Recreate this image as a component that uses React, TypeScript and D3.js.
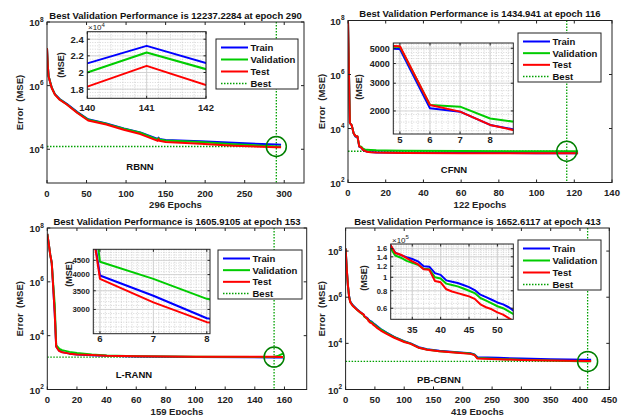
import React from 'react';
import * as d3 from 'd3';

const FONT = '"Liberation Sans", Arial, Helvetica, sans-serif';
const C_TRAIN = '#0000ff';
const C_VAL = '#00cc00';
const C_TEST = '#ff0000';
const C_BEST = '#00a000';
const C_CIRCLE = '#008000';

// ---------- Panel 1 (RBNN) ----------
const p1Epochs = [0, 1, 2, 4, 6, 10, 16, 25, 38, 52, 75, 97, 118, 140, 141, 142, 150, 194, 236, 290, 296];
const p1Train = [1.5e7, 4.3e6, 2.0e6, 1.3e6, 8.7e5, 5.4e5, 3.8e5, 2.7e5, 1.5e5, 8.8e4, 6.5e4, 4.5e4, 3.4e4, 2.11e4, 2.32e4, 2.115e4, 1.95e4, 1.8e4, 1.6e4, 1.4e4, 1.38e4];
const p1Val = [1.5e7, 4.3e6, 2.0e6, 1.3e6, 8.6e5, 5.3e5, 3.7e5, 2.6e5, 1.45e5, 8.5e4, 6.3e4, 4.4e4, 3.3e4, 2.0e4, 2.24e4, 2.04e4, 1.9e4, 1.7e4, 1.45e4, 1.2237e4, 1.225e4];
const p1Test = [1.5e7, 4.2e6, 1.95e6, 1.25e6, 8.4e5, 5.2e5, 3.6e5, 2.55e5, 1.4e5, 8.0e4, 6.0e4, 4.1e4, 3.0e4, 1.83e4, 2.08e4, 1.85e4, 1.7e4, 1.5e4, 1.3e4, 1.15e4, 1.15e4];
const p1Best = { epoch: 290, value: 12237.2284 };

// ---------- Panel 2 (CFNN) ----------
const p2Epochs = [0, 1, 2, 3, 4, 5, 6, 7, 8, 9, 10, 12, 15, 20, 30, 60, 100, 116, 122];
const p2Train = [1e8, 1.6e4, 1.3e4, 6.5e3, 5.0e3, 4.95e3, 2.08e3, 1.98e3, 1.63e3, 1.5e3, 1.4e3, 1.35e3, 1.3e3, 1.28e3, 1.26e3, 1.24e3, 1.22e3, 1.215e3, 1.21e3];
const p2Val = [1e8, 1.6e4, 1.3e4, 6.6e3, 5.2e3, 5.1e3, 2.18e3, 2.13e3, 1.79e3, 1.69e3, 1.62e3, 1.6e3, 1.56e3, 1.53e3, 1.5e3, 1.47e3, 1.44e3, 1.435e3, 1.435e3];
const p2Test = [1e8, 1.6e4, 1.3e4, 6.6e3, 5.2e3, 5.15e3, 2.18e3, 1.98e3, 1.63e3, 1.48e3, 1.38e3, 1.32e3, 1.28e3, 1.26e3, 1.24e3, 1.22e3, 1.2e3, 1.2e3, 1.2e3];
const p2Best = { epoch: 116, value: 1434.941 };

// ---------- Panel 3 (L-RANN) ----------
const p3Epochs = [0, 1, 2, 3, 4, 5, 6, 7, 8, 9, 10, 15, 20, 30, 40, 60, 100, 153, 156, 159];
const p3Train = [6e7, 2.5e7, 1e7, 5e6, 6e5, 7e4, 3970, 3360, 2790, 2600, 2450, 2150, 2000, 1880, 1780, 1700, 1620, 1560, 1555, 1550];
const p3Val = [6e7, 2.5e7, 1e7, 5e6, 8e5, 1.5e5, 4450, 3860, 3274, 3050, 2900, 2500, 2250, 2000, 1850, 1720, 1650, 1606, 1800, 2150];
const p3Test = [6e7, 2.5e7, 1e7, 5e6, 6e5, 7e4, 3860, 3180, 2700, 2550, 2400, 2150, 2000, 1900, 1800, 1720, 1660, 1630, 1628, 1625];
const p3Best = { epoch: 153, value: 1605.9105 };

// ---------- Panel 4 (PB-CBNN) ----------
const p4Epochs = [0, 2, 4, 6, 8, 12, 20, 25,
  31, 32, 33, 34, 35, 36, 37, 38, 39, 40, 41, 42, 43, 44, 45, 46, 47, 48, 49, 50, 51, 52, 53,
  60, 70, 83, 100, 111, 125, 139, 160, 190, 213, 220, 225, 260, 300, 350, 413, 419];
const p4Train = [1.3e8, 1.6e7, 3.2e6, 1.1e6, 6.5e5, 4.6e5, 2.9e5, 2.3e5,
  1.72e5, 1.50e5, 1.44e5, 1.39e5, 1.35e5, 1.30e5, 1.20e5, 1.19e5, 1.07e5, 1.04e5, 0.95e5, 0.93e5, 0.91e5, 0.88e5, 0.85e5, 0.81e5, 0.75e5, 0.72e5, 0.69e5, 0.66e5, 0.64e5, 0.61e5, 0.57e5,
  4.2e4, 2.9e4, 1.9e4, 1.25e4, 1.0e4, 6.8e3, 5.6e3, 4.8e3, 4.1e3, 3.7e3, 3.3e3, 2.5e3, 2.35e3, 2.2e3, 2.05e3, 1.95e3, 1.93e3];
const p4Val = [1.3e8, 1.6e7, 3.2e6, 1.05e6, 6.2e5, 4.4e5, 2.8e5, 2.2e5,
  1.65e5, 1.43e5, 1.38e5, 1.31e5, 1.27e5, 1.23e5, 1.15e5, 1.14e5, 1.00e5, 0.98e5, 0.90e5, 0.88e5, 0.86e5, 0.83e5, 0.80e5, 0.77e5, 0.71e5, 0.68e5, 0.65e5, 0.62e5, 0.60e5, 0.57e5, 0.54e5,
  4.0e4, 2.8e4, 1.85e4, 1.2e4, 9.7e3, 6.5e3, 5.4e3, 4.6e3, 4.0e3, 3.6e3, 3.2e3, 2.3e3, 2.1e3, 1.95e3, 1.8e3, 1.6526e3, 1.66e3];
const p4Test = [1.3e8, 1.6e7, 3.1e6, 1.0e6, 6.0e5, 4.3e5, 2.8e5, 2.2e5,
  1.75e5, 1.49e5, 1.45e5, 1.37e5, 1.30e5, 1.24e5, 1.14e5, 1.13e5, 0.94e5, 0.92e5, 0.82e5, 0.79e5, 0.77e5, 0.75e5, 0.73e5, 0.70e5, 0.64e5, 0.61e5, 0.59e5, 0.56e5, 0.54e5, 0.51e5, 0.48e5,
  3.6e4, 2.6e4, 1.75e4, 1.15e4, 9.5e3, 6.4e3, 5.3e3, 4.5e3, 3.9e3, 3.5e3, 3.1e3, 2.2e3, 2.05e3, 1.9e3, 1.8e3, 1.7e3, 1.7e3];
const p4Best = { epoch: 413, value: 1652.6117 };

const legendNames = ['Train', 'Validation', 'Test', 'Best'];

type InsetCfg = {
  box: [number, number, number, number];
  xDomain: [number, number];
  yDomain: [number, number];
  log: boolean;
  factor: number;
  xTicks: number[];
  yTicks: number[];
  yTickLabels: string[];
  xMinor: number[];
  yMinor: number[];
  exp?: string;
  expPos?: [number, number];
  msePos: [number, number];
  xLabelDy: number;
  yFont: number;
  xFont: number;
};

type PanelCfg = {
  id: string;
  box: [number, number, number, number];
  xDomain: [number, number];
  xTicks: number[];
  yDomain: [number, number];
  yExps: number[];
  epochs: number[];
  train: number[];
  val: number[];
  test: number[];
  best: { epoch: number; value: number };
  title: string;
  xLabel: string;
  name: string;
  namePos: [number, number];
  yLabelX: number;
  legend: [number, number, number, number];
  inset: InsetCfg;
};

const panels: PanelCfg[] = [
  {
    id: 'p1', box: [47, 22, 304, 183], xDomain: [0, 325], xTicks: d3.range(0, 301, 50),
    yDomain: [Math.pow(10, 2.94), 1e8], yExps: [4, 6, 8],
    epochs: p1Epochs, train: p1Train, val: p1Val, test: p1Test, best: p1Best,
    title: 'Best Validation Performance is 12237.2284 at epoch 290', xLabel: '296 Epochs',
    name: 'RBNN', namePos: [140, 166], yLabelX: 19.5, legend: [216, 39, 82, 50],
    inset: {
      box: [87.3, 31.7, 206, 98.3], xDomain: [140, 142], yDomain: [1.69, 2.49], log: false, factor: 1e4,
      xTicks: [140, 141, 142], yTicks: [1.8, 2, 2.2, 2.4], yTickLabels: ['1.8', '2', '2.2', '2.4'],
      xMinor: d3.range(140, 142.01, 0.2), yMinor: d3.range(1.72, 2.49, 0.04),
      exp: '4', expPos: [88, 27], msePos: [61, 65], xLabelDy: 9, yFont: 9.5, xFont: 9.5,
    },
  },
  {
    id: 'p2', box: [348, 20.5, 612, 182.5], xDomain: [0, 140], xTicks: d3.range(0, 141, 20),
    yDomain: [1e2, 1e8], yExps: [2, 4, 6, 8],
    epochs: p2Epochs, train: p2Train, val: p2Val, test: p2Test, best: p2Best,
    title: 'Best Validation Performance is 1434.941 at epoch 116', xLabel: '122 Epochs',
    name: 'CFNN', namePos: [454, 169], yLabelX: 321, legend: [518, 33, 83, 49],
    inset: {
      box: [393.3, 43, 513.3, 134], xDomain: [4.78, 8.77], yDomain: [1428, 5400], log: true, factor: 1,
      xTicks: [5, 6, 7, 8], yTicks: [2000, 3000, 4000, 5000], yTickLabels: ['2000', '3000', '4000', '5000'],
      xMinor: d3.range(4.8, 8.77, 0.2), yMinor: d3.range(1500, 5400, 200),
      msePos: [359, 87], xLabelDy: 5, yFont: 9, xFont: 9.5,
    },
  },
  {
    id: 'p3', box: [47.3, 228, 306.7, 389.5], xDomain: [0, 175], xTicks: d3.range(0, 161, 20),
    yDomain: [1e2, 1e8], yExps: [2, 4, 6, 8],
    epochs: p3Epochs, train: p3Train, val: p3Val, test: p3Test, best: p3Best,
    title: 'Best Validation Performance is 1605.9105 at epoch 153', xLabel: '159 Epochs',
    name: 'L-RANN', namePos: [134, 374], yLabelX: 19.5, legend: [218, 250, 84, 49],
    inset: {
      box: [93.3, 249.3, 210, 333.7], xDomain: [5.875, 8.06], yDomain: [2455, 4930], log: true, factor: 1,
      xTicks: [6, 7, 8], yTicks: [3000, 3500, 4000, 4500], yTickLabels: ['3000', '3500', '4000', '4500'],
      xMinor: d3.range(5.9, 8.06, 0.1), yMinor: d3.range(2500, 4930, 100),
      msePos: [68.5, 274], xLabelDy: 5, yFont: 7.8, xFont: 9.5,
    },
  },
  {
    id: 'p4', box: [345.6, 228, 609.3, 389.5], xDomain: [0, 450], xTicks: d3.range(0, 451, 50),
    yDomain: [1e2, 1e9], yExps: [2, 4, 6, 8],
    epochs: p4Epochs, train: p4Train, val: p4Val, test: p4Test, best: p4Best,
    title: 'Best Validation Performance is 1652.6117 at epoch 413', xLabel: '419 Epochs',
    name: 'PB-CBNN', namePos: [439, 379], yLabelX: 321.5, legend: [518, 240, 83, 50],
    inset: {
      box: [390.7, 244, 513.3, 319.3], xDomain: [31.2, 52.8], yDomain: [0.5, 1.73], log: true, factor: 1e5,
      xTicks: [35, 40, 45, 50], yTicks: [0.6, 0.8, 1, 1.2, 1.4, 1.6], yTickLabels: ['0.6', '0.8', '1', '1.2', '1.4', '1.6'],
      xMinor: d3.range(32, 53, 1), yMinor: d3.range(0.5, 1.73, 0.05),
      exp: '5', expPos: [392, 239.5], msePos: [364, 278], xLabelDy: 9.7, yFont: 7.6, xFont: 9.5,
    },
  },
];

function Panel({ cfg }: { cfg: PanelCfg }) {
  const [l, t, r, b] = cfg.box;
  const x = d3.scaleLinear().domain(cfg.xDomain).range([l, r]);
  const y = d3.scaleLog().domain(cfg.yDomain).range([b, t]);
  const mk = (vals: number[]) =>
    d3.line<number>().x((_, i) => x(cfg.epochs[i])).y((d) => y(d))(vals) || '';
  const series = [
    { vals: cfg.train, color: C_TRAIN },
    { vals: cfg.val, color: C_VAL },
    { vals: cfg.test, color: C_TEST },
  ];
  const bx = x(cfg.best.epoch);
  const by = y(cfg.best.value);
  const cx = (l + r) / 2;
  const cy = (t + b) / 2;

  const ins = cfg.inset;
  const [il, it, ir, ib] = ins.box;
  const ix = d3.scaleLinear().domain(ins.xDomain).range([il, ir]);
  const iy = ins.log
    ? d3.scaleLog().domain(ins.yDomain).range([ib, it])
    : d3.scaleLinear().domain(ins.yDomain).range([ib, it]);
  const imk = (vals: number[]) =>
    d3.line<number>().x((_, i) => ix(cfg.epochs[i])).y((d) => iy(d / ins.factor))(vals) || '';

  const [lx, ly, lw, lh] = cfg.legend;
  const rowGap = (lh - 14) / 3;

  return (
    <g>
      <defs>
        <clipPath id={cfg.id + '-clip'}>
          <rect x={l} y={t} width={r - l} height={b - t} />
        </clipPath>
        <clipPath id={cfg.id + '-iclip'}>
          <rect x={il} y={it} width={ir - il} height={ib - it} />
        </clipPath>
      </defs>
      <rect x={l} y={t} width={r - l} height={b - t} fill="#fff" />
      <g clipPath={`url(#${cfg.id}-clip)`}>
        <line x1={bx} x2={bx} y1={t} y2={b} stroke={C_BEST} strokeWidth={1.3} strokeDasharray="1.5,1.5" />
        <line x1={l} x2={bx} y1={by} y2={by} stroke={C_BEST} strokeWidth={1.3} strokeDasharray="1.5,1.5" />
        {series.map((s, i) => (
          <path key={i} d={mk(s.vals)} fill="none" stroke={s.color} strokeWidth={2} strokeLinejoin="round" />
        ))}
        <circle cx={bx} cy={by} r={10} fill="none" stroke={C_CIRCLE} strokeWidth={1.5} />
      </g>
      <rect x={l} y={t} width={r - l} height={b - t} fill="none" stroke="#222" strokeWidth={1} />
      {cfg.xTicks.map((v) => (
        <g key={'xt' + v}>
          <line x1={x(v)} x2={x(v)} y1={b} y2={b - 3} stroke="#222" />
          <line x1={x(v)} x2={x(v)} y1={t} y2={t + 3} stroke="#222" />
          <text x={x(v)} y={b + 13.5} textAnchor="middle" fontSize={9.5} fontWeight="bold" fill="#222">{v}</text>
        </g>
      ))}
      {cfg.yExps.map((e) => {
        const yy = y(Math.pow(10, e));
        return (
          <g key={'yt' + e}>
            <line x1={l} x2={l + 3} y1={yy} y2={yy} stroke="#222" />
            <line x1={r} x2={r - 3} y1={yy} y2={yy} stroke="#222" />
            <text x={l - 3.5} y={yy + 4} textAnchor="end" fontSize={9.5} fontWeight="bold" fill="#222">
              10<tspan dy={-4.5} fontSize={6.5}>{e}</tspan>
            </text>
          </g>
        );
      })}
      <text x={cx} y={t - 3.5} textAnchor="middle" fontSize={9.5} fontWeight="bold" fill="#111">{cfg.title}</text>
      <text x={cx} y={b + 25} textAnchor="middle" fontSize={9.5} fontWeight="bold" fill="#222">{cfg.xLabel}</text>
      <text x={cfg.yLabelX} y={cy} transform={`rotate(-90 ${cfg.yLabelX} ${cy})`} textAnchor="middle"
        dominantBaseline="central" fontSize={9.5} fontWeight="bold" fill="#222" xmlSpace="preserve">Error  (MSE)</text>
      <text x={cfg.namePos[0]} y={cfg.namePos[1] + 3.5} textAnchor="middle" fontSize={9.5} fontWeight="bold" fill="#111">{cfg.name}</text>

      <rect x={lx} y={ly} width={lw} height={lh} fill="#fff" stroke="#222" strokeWidth={1} />
      {legendNames.map((n, i) => {
        const yy = ly + 8.5 + i * rowGap;
        const color = [C_TRAIN, C_VAL, C_TEST, C_BEST][i];
        return (
          <g key={n}>
            <line x1={lx + 5} x2={lx + 32} y1={yy} y2={yy} stroke={color}
              strokeWidth={i === 3 ? 1.3 : 2} strokeDasharray={i === 3 ? '1.5,1.5' : undefined} />
            <text x={lx + 34.5} y={yy + 3.5} fontSize={9.5} fontWeight="bold" fill="#111">{n}</text>
          </g>
        );
      })}

      <rect x={il} y={it} width={ir - il} height={ib - it} fill="#fff" />
      {ins.xMinor.map((v, i) => (
        <line key={'ixm' + i} x1={ix(v)} x2={ix(v)} y1={it} y2={ib} stroke="#b8b8b8" strokeWidth={0.6} strokeDasharray="1,1.5" />
      ))}
      {ins.yMinor.map((v, i) => (
        <line key={'iym' + i} x1={il} x2={ir} y1={iy(v)} y2={iy(v)} stroke="#b8b8b8" strokeWidth={0.6} strokeDasharray="1,1.5" />
      ))}
      {ins.xTicks.map((v) => (
        <line key={'ixg' + v} x1={ix(v)} x2={ix(v)} y1={it} y2={ib} stroke="#d0d0d0" strokeWidth={0.9} />
      ))}
      {ins.yTicks.map((v) => (
        <line key={'iyg' + v} x1={il} x2={ir} y1={iy(v)} y2={iy(v)} stroke="#d0d0d0" strokeWidth={0.9} />
      ))}
      <g clipPath={`url(#${cfg.id}-iclip)`}>
        {series.map((s, i) => (
          <path key={i} d={imk(s.vals)} fill="none" stroke={s.color} strokeWidth={2} strokeLinejoin="round" />
        ))}
      </g>
      <rect x={il} y={it} width={ir - il} height={ib - it} fill="none" stroke="#222" strokeWidth={1} />
      {ins.xTicks.map((v) => (
        <g key={'ixt' + v}>
          <line x1={ix(v)} x2={ix(v)} y1={ib} y2={ib - 2.5} stroke="#222" />
          <line x1={ix(v)} x2={ix(v)} y1={it} y2={it + 2.5} stroke="#222" />
          <text x={ix(v)} y={ib + ins.xLabelDy + 3.5} textAnchor="middle" fontSize={ins.xFont} fontWeight="bold" fill="#222">{v}</text>
        </g>
      ))}
      {ins.yTicks.map((v, i) => (
        <g key={'iyt' + v}>
          <line x1={il} x2={il + 2.5} y1={iy(v)} y2={iy(v)} stroke="#222" />
          <line x1={ir} x2={ir - 2.5} y1={iy(v)} y2={iy(v)} stroke="#222" />
          <text x={il - 3.5} y={iy(v) + ins.yFont * 0.36} textAnchor="end" fontSize={ins.yFont} fontWeight="bold" fill="#222">{ins.yTickLabels[i]}</text>
        </g>
      ))}
      {ins.exp && ins.expPos && (
        <text x={ins.expPos[0]} y={ins.expPos[1] + 3} fontSize={8} fill="#222">
          ×10<tspan dy={-3.5} fontSize={6}>{ins.exp}</tspan>
        </text>
      )}
      <text x={ins.msePos[0]} y={ins.msePos[1]} transform={`rotate(-90 ${ins.msePos[0]} ${ins.msePos[1]})`}
        textAnchor="middle" dominantBaseline="central" fontSize={9} fontWeight="bold" fill="#222">(MSE)</text>
    </g>
  );
}

export default function App() {
  return (
    <svg width={629} height={415} viewBox="0 0 629 415"
      style={{ position: 'absolute', left: 0, top: 0, background: '#fff', fontFamily: FONT }}>
      <rect x={0} y={0} width={629} height={415} fill="#fff" />
      {panels.map((p) => (
        <Panel key={p.id} cfg={p} />
      ))}
    </svg>
  );
}
